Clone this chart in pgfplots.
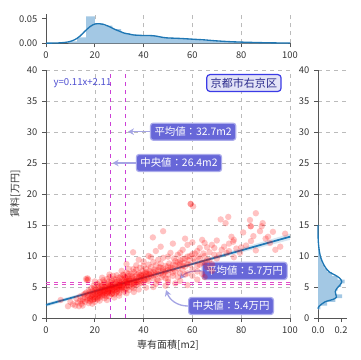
\documentclass[border=0pt]{standalone}
\usepackage{fontspec}
\setmainfont{Noto Sans CJK JP}
\usepackage{pgfplots}
\pgfplotsset{compat=1.18}
\usetikzlibrary{arrows.meta}
\definecolor{sbblue}{HTML}{1F77B4}
\definecolor{histblue}{HTML}{A3C8E4}
\definecolor{boxfill}{HTML}{6767D8}
\definecolor{boxedge}{HTML}{ABABEB}
\definecolor{arrowc}{HTML}{A5A5E4}
\definecolor{ticktext}{HTML}{333333}
\definecolor{spine}{HTML}{555555}
\definecolor{gridc}{HTML}{BBBBBB}
\definecolor{vlinec}{HTML}{CC3FD6}
\definecolor{hlinec}{HTML}{E04CC8}
\definecolor{titlefill}{HTML}{E3E3F7}
\definecolor{titleedge}{HTML}{3B3BE6}
\definecolor{titletext}{HTML}{2B2B8C}
\definecolor{eqtext}{HTML}{4D4DD0}
\pgfplotsset{
  base/.style={
    scale only axis,
    axis lines*=left,
    axis line style={spine, line width=0.7pt},
    tick align=outside,
    major tick length=3pt,
    tick style={spine, line width=0.6pt},
    ticklabel style={font=\fontsize{7}{8}\selectfont, text=ticktext},
    /pgf/number format/assume math mode=true,
    grid style={gridc, dashed, line width=0.4pt},
    clip=false,
  }
}
\begin{document}
\begin{tikzpicture}
\path (0,0) rectangle (270pt,270pt);
% main axis
\begin{axis}[base,
  at={(34.5pt,31.5pt)}, anchor=south west,
  width=183pt, height=186pt,
  xmin=0, xmax=100, ymin=0, ymax=40,
  xtick={0,20,40,60,80,100}, ytick={0,5,...,40},
  grid=major,
  xlabel={専有面積[m2]}, ylabel={賃料[万円]},
  label style={font=\fontsize{7.5}{9}\selectfont, text=ticktext},
  xlabel style={yshift=2pt},
  ylabel style={yshift=-2pt},
]
\addplot[only marks, mark=*, mark size=2.4pt, color=red, mark options={fill=red, fill opacity=0.24, draw opacity=0}] coordinates {
(6,2.9)(9,1.9)(10,2.6)(11,2.2)(12,2.0)(12.5,3.1)(13,2.5)(13.5,1.9)(14,2.8)(14,3.5)(14.5,2.3)(15,3.0)(15,2.0)(15.5,3.8)
(16,2.6)(16,3.3)(16.5,4.1)(16.4,6.3)(17.3,6.2)(16.8,6.1)(17,6.4)(17,2.9)(17,3.6)(17.5,2.4)(17.5,4.4)(18,3.2)(18,3.9)(18,2.7)(18.5,3.5)
(18.5,4.8)(19,2.9)(19,3.7)(19,4.3)(19.5,3.1)(19.5,5.2)(20,3.4)(20,4.0)(20,2.6)(20,4.7)(20.5,3.8)(21,3.0)(21,4.4)(21,5.5)
(21.5,3.6)(21.5,4.9)(22,3.3)(22,4.1)(22,5.8)(22.5,4.5)(22.5,3.9)(23,3.5)(23,4.8)(23,5.3)(23.5,4.2)(23.5,6.1)(24,3.7)(24,4.6)
(24,5.6)(24.5,4.0)(24.5,5.1)(25,3.9)(25,4.7)(25,6.3)(25.5,4.4)(25.5,5.4)(26,4.1)(26,5.0)(26,6.6)(26.5,4.6)(26.5,5.7)(27,4.3)
(27,5.2)(27,6.0)(27.5,4.8)(27.5,6.8)(28,4.5)(28,5.5)(28,3.8)(28.5,5.0)(28.5,6.2)(29,4.7)(29,5.8)(29,6.9)(29.5,5.2)(30,4.9)
(30,6.0)(30,5.4)(30.5,5.6)(30.5,6.6)(31,5.1)(31,6.3)(31.5,5.5)(31.5,7.0)(32,5.3)(32,6.1)(32.5,5.8)(32.5,4.6)(33,5.5)(33,6.5)
(33,7.3)(33.5,6.0)(34,5.7)(34,6.8)(34.5,6.2)(35,5.9)(35,7.1)(35.7,10.6)(35.5,6.4)(36,6.1)(36,7.4)(36.5,6.7)(37,6.3)(37,7.8)
(37.5,5.8)(38,6.6)(38,7.2)(38.5,8.1)(39,6.2)(39,7.0)(39.5,7.6)(40,6.5)(40,8.4)(40.5,7.3)(41,6.8)(41,7.9)(41.5,6.3)(42,7.1)
(42,8.6)(42.5,7.6)(43,6.7)(43,8.2)(43.8,13.0)(44,7.4)(44,9.0)(45,7.0)(45,8.5)(45.5,6.2)(46,7.7)(46,9.4)(47,7.2)(47,8.8)
(47.5,6.6)(48,14.0)(48,8.0)(48,9.7)(49,7.5)(49,6.4)(50,8.3)(50,9.9)(50,7.0)(51,7.8)(51,10.5)(52,8.6)(52,6.8)(53,9.2)
(53,7.5)(54,8.0)(54,10.2)(55,8.8)(55,7.2)(56,9.5)(56,11.0)(57,8.3)(57,7.0)(58,9.9)(58,11.8)(59,8.6)(59.3,18.4)(59.3,18.4)(60.3,18.0)(60,10.3)
(60,7.8)(60,12.2)(61,9.1)(62,10.8)(62,8.4)(63,11.3)(63,9.6)(64,8.9)(64,12.6)(65,12.1)(65,10.0)(66,9.3)(66,11.4)(67,10.6)
(68,11.8)(68,8.7)(69,10.2)(70,12.5)(70,9.6)(71.6,15.9)(72,11.0)(73.6,15.3)(74.7,16.3)(74,10.5)(75,12.0)(76,13.1)(76.7,12.3)
(77,9.8)(78,11.2)(79.5,10.5)(80.8,13.8)(82,11.7)(83.9,14.8)(83.9,14.8)(83.6,15.8)(84,12.4)(86,16.9)(86,10.9)(87.7,14.0)(88.4,14.8)
(88.8,15.3)(90,12.8)(91,13.1)(91.8,12.1)(94,11.0)(96,11.5)(98,13.6)
(36,5.2)(38,5.5)(40,5.8)(42,6.0)(44,6.4)(46,6.0)(48,6.9)(50,6.3)(52,7.3)(54,6.6)(56,7.8)(58,7.2)(60,6.8)(62,7.5)
(64,7.1)(66,8.2)(68,7.6)(45,5.5)(50,5.8)(55,6.0)(58,5.3)(62,6.2)(65,6.6)(22,2.8)(24,3.2)(26,3.5)(28,3.3)(30,4.0)
(32,4.2)(34,4.5)(36,4.8)(25,2.9)(19,2.3)(27,3.9)(29,4.2)(31,4.5)(33,4.8)(35,5.0)(37,5.4)(39,5.6)(20,5.9)(23,6.5)
(26,7.0)(31,7.6)(34,7.9)(37,8.5)(40,9.1)(43,9.8)(30,3.6)(33,4.0)(36,4.2)(38,4.6)
(21,3.9)(22,4.6)(23,4.0)(24,4.3)(25,5.0)(26,4.8)(27,4.6)(28,5.2)(29,5.0)(30,5.2)(31,5.8)(32,5.6)(33,6.0)(34,6.3)
(20.5,4.2)(22.5,5.0)(24.5,4.4)(26.5,5.2)(28.5,4.6)(30.5,5.0)(32.5,6.4)(34.5,5.4)(36.5,6.0)(38.5,6.9)(40.5,6.1)(42.5,7.0)
(44.5,7.8)(46.5,8.2)(48.5,7.4)(50.5,8.8)(52.5,9.6)(54.5,8.5)(56.5,8.9)(58.5,9.3)(60.5,9.6)(62.5,9.9)(64.5,10.4)
(15,2.7)(16,3.9)(17,3.2)(18,4.2)(19,3.4)(20,3.1)(21,3.4)(22,3.7)(23,4.4)(24,5.0)(25,4.3)(26,4.5)(27,4.9)(28,4.9)
(29,5.4)(30,4.6)(31,4.9)(32,5.0)(33,5.2)(34,5.1)(35,5.5)(36,5.7)(37,6.0)(38,6.2)(39,6.5)(40,7.0)(41,7.4)(42,6.6)
(43,7.3)(44,6.9)(45,7.6)(46,7.1)(47,8.1)(48,7.6)(49,8.4)(50,7.7)(51,8.1)(52,8.0)(53,8.5)(54,9.0)(55,9.3)(56,8.4)
(57,9.6)(58,8.7)(59,10.0)(61,10.4)(63,8.6)(65,9.0)(67,9.4)(69,11.3)(71,10.2)(73,11.5)(75,10.8)(77,12.6)(80,11.4)(85,13.2)(93,13.9)
(47,11.5)(52,12.0)(55,10.5)(57,12.8)(45,10.8)(42,10.0)(38,9.4)(33,8.7)(53,5.6)(49,5.2)(44,5.0)(41,4.9)
(18.2,3.0)(19.2,3.8)(20.2,4.4)(21.2,3.2)(22.2,4.2)(23.2,3.7)(24.2,4.9)(25.2,4.1)(26.2,5.3)(27.2,4.0)(28.2,5.8)(29.2,4.4)
(30.2,5.7)(31.2,4.8)(32.2,6.6)(33.2,5.7)(34.2,6.0)(35.2,6.7)(36.2,5.5)(37.2,7.0)(38.2,5.9)(39.2,6.8)(40.2,6.3)(41.2,7.1)
(19.8,4.9)(21.8,5.2)(23.8,5.8)(25.8,5.9)(27.8,6.3)(29.8,6.5)(31.8,6.9)(33.8,7.1)(35.8,7.9)(24.8,3.5)(26.8,3.9)(28.8,4.1)
};
\addplot[fill=sbblue, fill opacity=0.18, draw=none] coordinates {(0,1.8)(50,7.5)(100,12.6)(100,13.6)(50,7.8)(0,2.4)} -- cycle;
\addplot[sbblue, line width=1.3pt] coordinates {(0,2.11)(100,13.11)};
\addplot[draw=vlinec, dashed, line width=0.8pt] coordinates {(26.4,0)(26.4,40)};
\addplot[draw=vlinec, dashed, line width=0.8pt] coordinates {(32.7,0)(32.7,40)};
\addplot[draw=hlinec, dashed, line width=0.8pt] coordinates {(0,5.4)(100,5.4)};
\addplot[draw=hlinec, dashed, line width=0.8pt] coordinates {(0,5.7)(100,5.7)};
\node[anchor=west, text=eqtext, font=\fontsize{7.2}{8}\selectfont] at (axis cs:1.2,37.9) {y=0.11x+2.11};
\node[fill=titlefill, draw=titleedge, line width=0.9pt, rounded corners=2.5pt, text=titletext, inner xsep=3pt, inner ysep=2.5pt, font=\fontsize{8.3}{9}\selectfont] at (axis cs:81.1,37.9) {京都市右京区};
\draw[arrowc, line width=1pt, -{Stealth[length=4.5pt,width=5pt]}] (axis cs:42.6,30.05) -- (axis cs:33.6,30.05);
\node[fill=boxfill, draw=boxedge, line width=0.9pt, rounded corners=2pt, text=white, inner xsep=3pt, inner ysep=2.8pt, font=\fontsize{7.8}{9}\selectfont, anchor=west] at (axis cs:42.6,30.05) {平均値：32.7m2};
\draw[arrowc, line width=1pt, -{Stealth[length=4.5pt,width=5pt]}] (axis cs:36.8,25) -- (axis cs:27.3,25);
\node[fill=boxfill, draw=boxedge, line width=0.9pt, rounded corners=2pt, text=white, inner xsep=3pt, inner ysep=2.8pt, font=\fontsize{7.8}{9}\selectfont, anchor=west] at (axis cs:36.8,25) {中央値：26.4m2};
\draw[arrowc, line width=1pt, -{Stealth[length=4.5pt,width=5pt]}] (axis cs:63.8,7.6) to[out=180,in=50] (axis cs:54.8,6.3);
\node[fill=boxfill, draw=boxedge, line width=0.9pt, rounded corners=2pt, text=white, inner xsep=3pt, inner ysep=2.8pt, font=\fontsize{7.8}{9}\selectfont, anchor=west] at (axis cs:63.8,7.6) {平均値：5.7万円};
\draw[arrowc, line width=1pt, -{Stealth[length=4.5pt,width=5pt]}] (axis cs:58.2,1.93) to[out=180,in=-70] (axis cs:49.2,4.5);
\node[fill=boxfill, draw=boxedge, line width=0.9pt, rounded corners=2pt, text=white, inner xsep=3pt, inner ysep=2.8pt, font=\fontsize{7.8}{9}\selectfont, anchor=west] at (axis cs:58.2,1.93) {中央値：5.4万円};
\end{axis}
% top marginal
\begin{axis}[base,
  at={(34.5pt,237.5pt)}, anchor=south west,
  width=183pt, height=22pt,
  xmin=0, xmax=100, ymin=0, ymax=0.06,
  xtick={0,20,40,60,80,100}, ytick={0,0.05},
  yticklabel style={/pgf/number format/.cd, fixed, fixed zerofill, precision=2},
  scaled y ticks=false,
  xmajorgrids,
]
\addplot[ybar interval, fill=histblue, draw=none] coordinates {
(9.2,0.004)(12.8,0.012)(16.4,0.055)(20.0,0.041)(23.6,0.036)(27.2,0.029)(30.8,0.021)(34.4,0.018)(38.0,0.016)
(41.6,0.016)(45.2,0.013)(48.8,0.011)(52.4,0.010)(56.0,0.009)(59.6,0.008)(63.2,0.006)(66.8,0.005)(70.4,0.004)
(74.0,0.003)(77.6,0.003)(81.2,0.002)(84.8,0.002)(88.4,0.001)(92.0,0.001)(95.6,0.001)(99.2,0.001)};
\addplot[sbblue, line width=1pt, smooth] coordinates {
(0,0.0003)(5,0.0008)(8,0.002)(10,0.004)(12,0.008)(14,0.015)(16,0.025)(18,0.034)(20,0.0395)(22,0.040)(24,0.038)
(26,0.034)(28,0.029)(30,0.025)(32,0.021)(34,0.019)(36,0.017)(38,0.0165)(40,0.016)(42,0.016)(44,0.0155)(46,0.014)
(48,0.012)(50,0.011)(55,0.010)(60,0.0085)(65,0.007)(70,0.005)(75,0.0035)(80,0.0025)(85,0.0018)(90,0.0012)(95,0.0008)(100,0.0005)};
\end{axis}
% right marginal
\begin{axis}[base,
  at={(238.5pt,31.5pt)}, anchor=south west,
  width=21.6pt, height=186pt,
  xmin=0, xmax=0.25, ymin=0, ymax=40,
  xtick={0,0.2}, ytick={0,5,...,40},
  xticklabel style={/pgf/number format/.cd, fixed, fixed zerofill, precision=1},
  scaled x ticks=false,
  ymajorgrids,
]
\addplot[xbar interval, fill=histblue, draw=none] coordinates {
(0.02,1.4)(0.08,2.0)(0.15,2.6)(0.21,3.2)(0.15,3.8)(0.17,4.4)(0.20,5.0)(0.23,5.6)(0.17,6.2)(0.12,6.8)(0.08,7.4)
(0.055,8.0)(0.04,8.6)(0.03,9.2)(0.018,9.8)(0.012,10.4)(0.007,11.0)(0.004,11.6)(0.003,12.2)(0.002,12.8)(0.002,13.4)
(0.001,14.0)(0.001,14.6)(0.001,15.2)(0.001,15.8)(0.001,16.4)(0.001,17.0)(0.001,17.6)(0.001,18.2)};
\addplot[sbblue, line width=1pt, smooth] coordinates {
(0,1.5)(0.01,1.9)(0.06,2.6)(0.13,3.0)(0.16,3.35)(0.155,3.8)(0.15,4.25)(0.165,4.8)(0.19,5.3)(0.206,5.85)(0.19,6.4)
(0.15,6.9)(0.10,7.4)(0.07,8.0)(0.05,8.6)(0.035,9.2)(0.02,10)(0.01,11)(0.004,12)(0.001,13)(0,15)};
\end{axis}
\end{tikzpicture}
\end{document}
